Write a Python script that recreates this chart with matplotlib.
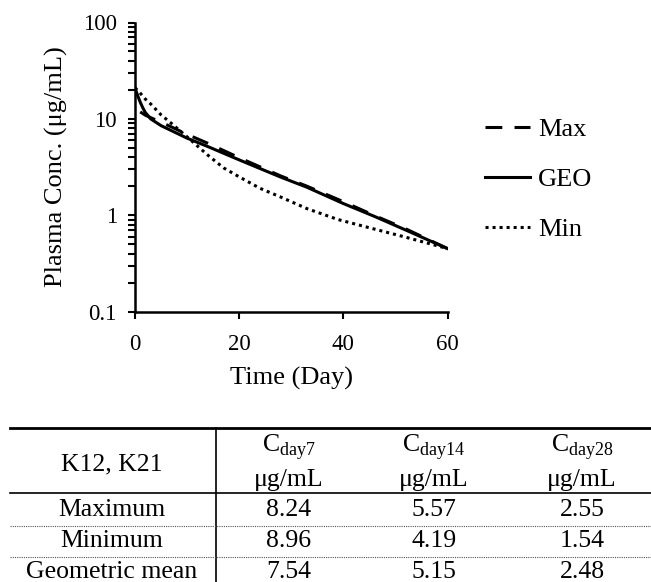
import matplotlib
matplotlib.use('Agg')
import matplotlib.pyplot as plt
from matplotlib.lines import Line2D
from matplotlib.ticker import FixedLocator, FixedFormatter, NullFormatter

plt.rcParams['font.family'] = 'Liberation Serif'
plt.rcParams['mathtext.fontset'] = 'custom'
plt.rcParams['mathtext.rm'] = 'Liberation Serif'

# simulated plasma concentration (ug/mL) against time (day)
days_max = [1, 2, 3, 5, 7, 10, 14, 20, 28, 33, 40, 46, 52, 60]
conc_max = [11.8, 10.9, 10.3, 9.2, 8.24, 6.9, 5.57, 3.95, 2.55, 2.0, 1.38, 0.99, 0.72, 0.45]

days_geo = [0, 0.5, 1, 1.5, 2, 3, 5, 7, 10, 14, 20, 28, 33, 40, 46, 52, 60]
conc_geo = [21, 17.5, 14.9, 13, 11.6, 10.0, 8.5, 7.54, 6.3, 5.15, 3.75, 2.48, 1.95, 1.32, 0.97, 0.7, 0.45]

days_min = [0, 1, 2, 3, 5, 7, 10, 14, 17, 20, 24, 28, 33, 39, 45, 52, 60]
conc_min = [21, 18.5, 16, 14.3, 11.0, 8.96, 6.5, 4.19, 3.1, 2.5, 1.9, 1.54, 1.17, 0.9, 0.74, 0.59, 0.45]

# summary table
row_names = ['Maximum', 'Minimum', 'Geometric mean']
col_days = ['7', '14', '28']
table_vals = [['8.24', '5.57', '2.55'],
              ['8.96', '4.19', '1.54'],
              ['7.54', '5.15', '2.48']]

W, H = 651, 582
fig = plt.figure(figsize=(W / 100, H / 100), dpi=100)

def fx(px):
    return px / W

def fy(py):
    return 1 - py / H

ax = fig.add_axes([fx(135), fy(311.5), fx(447.5) - fx(135), fy(22.5) - fy(311.5)])

lw = 2.2
ax.plot(days_max, conc_max, color='black', lw=lw, linestyle=(0, (5.5, 4)), label='Max', zorder=3)
ax.plot(days_min, conc_min, color='black', lw=lw, linestyle=(0, (1, 1.3)), label='Min', zorder=3)
ax.plot(days_geo, conc_geo, color='black', lw=lw, linestyle='-', label='GEO', zorder=4)

ax.set_yscale('log')
ax.set_ylim(0.1, 100)
ax.set_xlim(0, 60)

ax.yaxis.set_major_locator(FixedLocator([0.1, 1, 10, 100]))
ax.yaxis.set_major_formatter(FixedFormatter(['0.1', '1', '10', '100']))
minors = [m * 10.0 ** e for e in (-1, 0, 1) for m in range(2, 10)]
ax.yaxis.set_minor_locator(FixedLocator(minors))
ax.yaxis.set_minor_formatter(NullFormatter())
ax.set_xticks([0, 20, 40, 60])

for side in ('top', 'right'):
    ax.spines[side].set_visible(False)
for side in ('left', 'bottom'):
    ax.spines[side].set_linewidth(1.8)

ax.tick_params(axis='both', which='both', direction='out', length=5, width=1.5,
               labelsize=16.5, colors='black')
ax.tick_params(axis='y', which='major', pad=8)
ax.tick_params(axis='x', which='major', pad=11)

ax.set_xlabel('Time (Day)', fontsize=19, labelpad=9)
ax.set_ylabel('Plasma Conc. (μg/mL)', fontsize=19, labelpad=11)

handles, labels = ax.get_legend_handles_labels()
order = [labels.index(n) for n in ('Max', 'GEO', 'Min')]
fig.legend([handles[i] for i in order], [labels[i] for i in order],
           loc='upper left', bbox_to_anchor=(fx(485), fy(118)),
           frameon=False, fontsize=19, handlelength=1.7, handletextpad=0.3,
           labelspacing=1.0, borderpad=0, borderaxespad=0)

# table rules
left, right = 10, 651
fig.add_artist(Line2D([fx(left), fx(right)], [fy(428), fy(428)], color='black', lw=2.0))
fig.add_artist(Line2D([fx(left), fx(right)], [fy(493), fy(493)], color='black', lw=1.2))
fig.add_artist(Line2D([fx(216), fx(216)], [fy(428), fy(582)], color='black', lw=1.2))
for yy in (526, 557):
    fig.add_artist(Line2D([fx(left), fx(right)], [fy(yy), fy(yy)], color='#555555',
                          lw=0.8, linestyle=(0, (1, 1))))

col_x = [289, 434, 582]
tsize = 18.5
fig.text(fx(112), fy(464), 'K12, K21', fontsize=tsize, ha='center', va='center')
for cx, d in zip(col_x, col_days):
    fig.text(fx(cx), fy(447), r'$\mathrm{C}_{\mathrm{day' + d + '}}$', fontsize=tsize,
             ha='center', va='center')
    fig.text(fx(cx), fy(480), 'μg/mL', fontsize=tsize, ha='center', va='center')

row_y = [510, 541, 572]
for ry, name, vals in zip(row_y, row_names, table_vals):
    fig.text(fx(112), fy(ry), name, fontsize=tsize, ha='center', va='center')
    for cx, v in zip(col_x, vals):
        fig.text(fx(cx), fy(ry), v, fontsize=tsize, ha='center', va='center')

fig.savefig('out.png', dpi=100)
